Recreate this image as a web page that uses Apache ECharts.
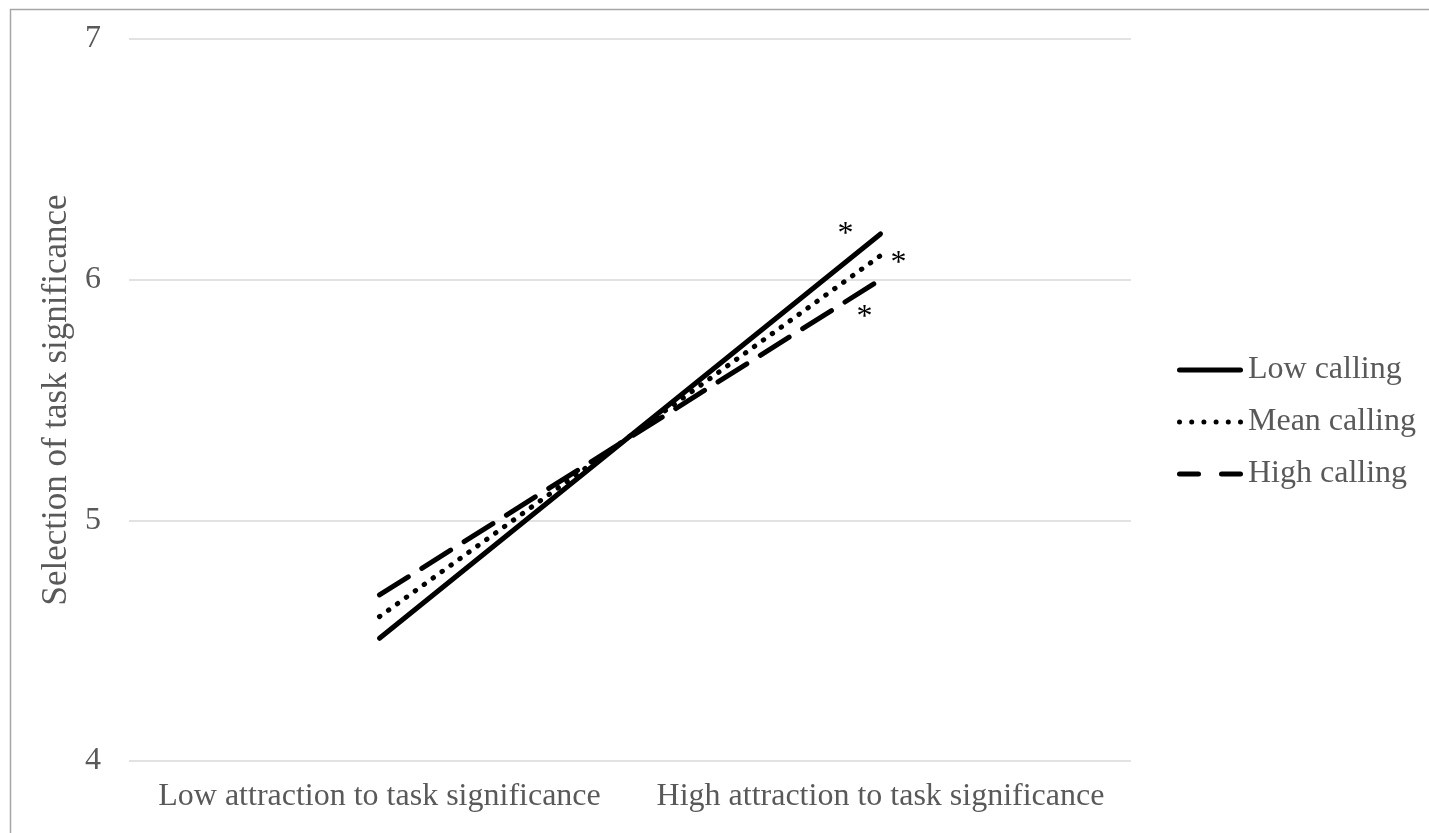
<!DOCTYPE html>
<html>
<head>
<meta charset="utf-8">
<script src="https://cdn.jsdelivr.net/npm/echarts@6/dist/echarts.min.js"></script>
<style>
html,body{margin:0;padding:0;background:#fff;}
#chart{width:1429px;height:833px;}
</style>
</head>
<body>
<div id="chart"></div>
<script>
const categories = ['Low attraction to task significance', 'High attraction to task significance'];
const seriesNames = ['Low calling', 'Mean calling', 'High calling'];
const lowCalling = [4.51, 6.19];
const meanCalling = [4.60, 6.10];
const highCalling = [4.69, 6.00];
const yTicks = [4, 5, 6, 7];
const yTitle = 'Selection of task significance';
const markerText = '*';

const FONT = '"Liberation Serif", "Times New Roman", serif';
const GREY = '#595959';

function endMarker(values, offset) {
  const last = values.length - 1;
  return {
    silent: true,
    symbol: 'circle', symbolSize: 1,
    itemStyle: {color: 'rgba(0,0,0,0)'},
    label: {
      show: true, formatter: markerText, position: 'inside', offset: offset,
      color: '#000', fontFamily: FONT, fontSize: 32
    },
    data: [{coord: [categories[last], values[last]]}]
  };
}

// legend icons (solid, dotted, dashed samples), aspect 66 x 5
const dot = (x) => `M${x},2.5a2.5,2.5 0 1,0 5,0a2.5,2.5 0 1,0 -5,0z`;
const iconSolid = 'path://M2.5,0h61a2.5,2.5 0 0,1 0,5h-61a2.5,2.5 0 0,1 0,-5z';
const iconDotted = 'path://' + [0, 12.2, 24.4, 36.6, 48.8, 61].map(dot).join('');
const iconDashed = 'path://M2.5,0h19a2.5,2.5 0 0,1 0,5h-19a2.5,2.5 0 0,1 0,-5z M44.5,0h19a2.5,2.5 0 0,1 0,5h-19a2.5,2.5 0 0,1 0,-5z';
const legendIcons = [iconSolid, iconDotted, iconDashed];

const chart = echarts.init(document.getElementById('chart'), null, {renderer: 'canvas'});
chart.setOption({
  backgroundColor: '#fff',
  animation: false,
  graphic: [{
    type: 'rect', left: 8, top: 7, silent: true,
    shape: {x: 0, y: 0, width: 1440, height: 825},
    style: {fill: 'none', stroke: '#a6a6a6', lineWidth: 1.5}
  }],
  grid: {left: 129, right: 298, top: 39, bottom: 72, containLabel: false},
  legend: {
    orient: 'vertical', left: 1172, top: 345,
    itemWidth: 66, itemHeight: 5, itemGap: 12,
    textStyle: {color: GREY, fontFamily: FONT, fontSize: 32, lineHeight: 40},
    data: seriesNames.map((n, i) => ({name: n, icon: legendIcons[i], itemStyle: {color: '#000', opacity: 1}}))
  },
  xAxis: {
    type: 'category', data: categories, boundaryGap: true,
    axisLine: {show: false}, axisTick: {show: false},
    axisLabel: {color: GREY, fontFamily: FONT, fontSize: 32, margin: 20, interval: 0}
  },
  yAxis: {
    type: 'value', min: yTicks[0], max: yTicks[yTicks.length - 1], interval: 1,
    name: yTitle, nameLocation: 'middle', nameGap: 46,
    nameTextStyle: {color: GREY, fontFamily: FONT, fontSize: 35},
    axisLine: {show: false}, axisTick: {show: false},
    axisLabel: {color: GREY, fontFamily: FONT, fontSize: 32, margin: 28},
    splitLine: {lineStyle: {color: '#d9d9d9', width: 1.5}}
  },
  series: [
    {
      name: seriesNames[0], type: 'line', data: lowCalling,
      symbol: 'none', color: '#000',
      lineStyle: {color: '#000', width: 5, cap: 'round'},
      markPoint: endMarker(lowCalling, [-35, 1])
    },
    {
      name: seriesNames[1], type: 'line', data: meanCalling,
      symbol: 'none', color: '#000',
      lineStyle: {color: '#000', width: 5, type: [0.5, 10.5], cap: 'round'},
      markPoint: endMarker(meanCalling, [18, 8])
    },
    {
      name: seriesNames[2], type: 'line', data: highCalling,
      symbol: 'none', color: '#000',
      lineStyle: {color: '#000', width: 5, type: [34, 16], cap: 'round'},
      markPoint: endMarker(highCalling, [-16, 38])
    }
  ]
});
</script>
</body>
</html>
